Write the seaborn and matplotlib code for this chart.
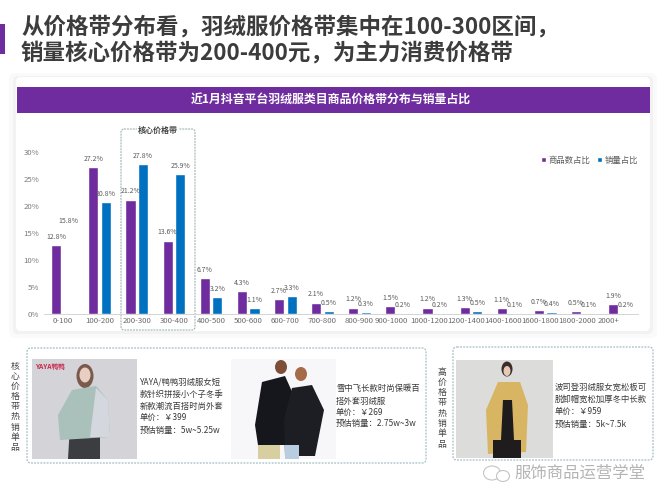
import matplotlib.pyplot as plt
import matplotlib.transforms as mtrans
from matplotlib.patches import FancyBboxPatch, Rectangle, Polygon, Ellipse
import pandas as pd
import seaborn as sns

# chart data
price_bands = ['0-100', '100-200', '200-300', '300-400', '400-500', '500-600', '600-700', '700-800',
               '800-900', '900-1000', '1000-1200', '1200-1400', '1400-1600', '1600-1800', '1800-2000', '2000+']
item_share = [12.8, 27.2, 21.2, 13.6, 6.7, 4.3, 2.7, 2.1, 1.2, 1.5, 1.2, 1.3, 1.1, 0.7, 0.5, 1.9]
sales_share = [15.8, 20.8, 27.8, 25.9, 3.2, 1.1, 3.3, 0.5, 0.3, 0.2, 0.2, 0.5, 0.1, 0.4, 0.1, 0.2]
series_names = ['商品数占比', '销量占比']
y_ticks = [0, 5, 10, 15, 20, 25, 30]

PURPLE = '#6f2c9f'
BLUE = '#0070c0'
W, H = 670, 503

sns.set_theme(style="white")
plt.rcParams['font.family'] = ['Noto Sans CJK SC', 'DejaVu Sans']

fig = plt.figure(figsize=(W / 100, H / 100), dpi=100, facecolor='white')

# background layer in pixel coordinates, for everything outside the chart
bg = fig.add_axes([0, 0, 1, 1])
bg.set_xlim(0, W)
bg.set_ylim(H, 0)
bg.axis('off')


def rounded(x0, y0, x1, y1, r=4, **kw):
    bg.add_patch(FancyBboxPatch((x0 + r, y0 + r), x1 - x0 - 2 * r, y1 - y0 - 2 * r,
                                boxstyle=f'round,pad={r},rounding_size={r}', **kw))


# header
bg.add_patch(Rectangle((0, 24), 5, 30, color=PURPLE, lw=0))
bg.text(21, 27, '从价格带分布看，羽绒服价格带集中在100-300区间，', fontsize=16.2, fontweight='bold',
        color='#3c3c3c', va='center')
bg.text(21, 54, '销量核心价格带为200-400元，为主力消费价格带', fontsize=16.2, fontweight='bold',
        color='#3c3c3c', va='center')

# card with a soft shadow and the purple banner
rounded(9, 73, 657, 338, r=6, fc='#fafafa', ec='none')
rounded(13, 76, 653, 334, r=5, fc='#f2f2f2', ec='none')
rounded(16, 77, 650, 331, r=5, fc='white', ec='none')
bg.add_patch(Rectangle((17, 87), 633, 26, color=PURPLE, lw=0))
bg.text(331, 100, '近1月抖音平台羽绒服类目商品价格带分布与销量占比', fontsize=8.6, fontweight='bold',
        color='white', ha='center', va='center')

# chart
ax = fig.add_axes([44 / W, 1 - 314 / H, 594 / W, 162 / H], facecolor='none')
df = pd.DataFrame({
    'band': price_bands * 2,
    'share': item_share + sales_share,
    'series': [series_names[0]] * len(item_share) + [series_names[1]] * len(sales_share),
})
sns.barplot(data=df, x='band', y='share', hue='series', palette=[PURPLE, BLUE],
            width=0.68, gap=0.2, saturation=1, ax=ax)
ax.set_xlim(-0.5, len(price_bands) - 0.5)
ax.set_ylim(0, 30)
ax.set_xlabel('')
ax.set_ylabel('')
ax.set_yticks(y_ticks)
ax.set_yticklabels([f'{v}%' for v in y_ticks])
ax.tick_params(axis='x', length=0, pad=2.5, labelsize=5.6, labelcolor='#6a6a6a')
ax.tick_params(axis='y', length=0, pad=3.5, labelsize=5.6, labelcolor='#7a7a7a')
sns.despine(ax=ax, left=True)
ax.spines['bottom'].set_color('#d4d4d4')
ax.spines['bottom'].set_linewidth(0.7)

for cont, vals in zip(ax.containers, [item_share, sales_share]):
    ax.bar_label(cont, labels=[f'{v}%' for v in vals], padding=3, fontsize=5, color='#5a5a5a')
# the first sales bar has a label but no visible bar in the source
ax.containers[1][0].set_visible(False)

# long labels sit left of their group in the source
for i, lab in enumerate(ax.get_xticklabels()):
    shift = -11 if i == len(price_bands) - 1 else (-5 if i >= 9 else 0)
    lab.set_transform(lab.get_transform() + mtrans.ScaledTranslation(shift / 100, 0, fig.dpi_scale_trans))

handles, labels = ax.get_legend_handles_labels()
ax.legend(handles, labels, loc='center right', bbox_to_anchor=(1.0, 0.95), ncol=2, frameon=False,
          fontsize=6, labelcolor='#5a5a5a', handlelength=0.55, handleheight=0.55, handletextpad=0.3,
          columnspacing=0.9, borderpad=0, borderaxespad=0)

# core price band frame
rounded(121, 129, 195, 330, r=3, fc='none', ec='#8fa9a9', lw=0.7, ls=(0, (2, 1)), zorder=5)
bg.set_zorder(0)
ax.set_zorder(1)
frame = fig.add_axes([0, 0, 1, 1], facecolor='none')
frame.set_xlim(0, W)
frame.set_ylim(H, 0)
frame.axis('off')
frame.set_zorder(2)
frame.text(158, 130, '核心价格带', fontsize=5.8, fontweight='bold', color='#444444', ha='center', va='center',
           bbox=dict(fc='white', ec='none', pad=0.8))

# lower panels
DASH = dict(fc='white', ec='#a3bfc4', lw=0.9, ls=(0, (1.5, 1)))
rounded(27, 348, 426, 463, r=4, **DASH)
rounded(453, 347, 653, 460, r=4, **DASH)

# rough stand-ins for the product photos
bg.add_patch(Rectangle((32, 359), 105, 100, color='#d3d3d8', lw=0))
bg.add_patch(Ellipse((85, 376), 17, 24, color='#7a5a4c', lw=0))
bg.add_patch(Ellipse((85, 375), 11, 15, color='#e9cfc2', lw=0))
bg.add_patch(Polygon([(68, 459), (70, 425), (100, 425), (100, 459)], color='#3b3d40', lw=0))
bg.add_patch(Polygon([(72, 390), (96, 386), (108, 400), (110, 437), (60, 440), (58, 415)], color='#a9c0bb', lw=0))
bg.add_patch(Polygon([(96, 388), (108, 400), (110, 437), (90, 437)], color='#d4d8de', lw=0))
bg.text(36, 366, 'YAYA鸭鸭', fontsize=4.8, fontweight='bold', color='#c8264a', va='center')

bg.add_patch(Rectangle((231, 359), 105, 100, color='#f7f7f9', lw=0))
bg.add_patch(Polygon([(262, 382), (285, 376), (298, 405), (290, 445), (258, 445), (255, 425)], color='#15171c', lw=0))
bg.add_patch(Polygon([(292, 388), (312, 385), (324, 410), (315, 456), (285, 456), (284, 420)], color='#1c1e24', lw=0))
bg.add_patch(Rectangle((258, 445), 22, 14, color='#d8cfa0', lw=0))
bg.add_patch(Rectangle((285, 445), 14, 14, color='#b9cde0', lw=0))
bg.add_patch(Ellipse((281, 367), 12, 14, color='#7d4f38', lw=0))
bg.add_patch(Ellipse((301, 374), 12, 14, color='#a56b48', lw=0))

bg.add_patch(Rectangle((456, 360), 97, 98, color='#dcdcdb', lw=0))
bg.add_patch(Polygon([(498, 382), (520, 382), (528, 405), (526, 452), (488, 454), (486, 410)], color='#d8b562', lw=0))
bg.add_patch(Rectangle((493, 440), 28, 18, color='#201c1e', lw=0))
bg.add_patch(Polygon([(503, 400), (512, 400), (514, 440), (501, 440)], color='#1e1b1c', lw=0))
bg.add_patch(Ellipse((507, 369), 11, 15, color='#3a2d2a', lw=0))
bg.add_patch(Ellipse((507, 371), 7, 10, color='#e6c9b5', lw=0))

# product text
text_blocks = [
    (140, [382, 394, 406, 417, 430],
     ['YAYA/鸭鸭羽绒服女短', '款针织拼接小个子冬季', '新款潮流百搭时尚外套', '单价：￥399', '预估销量：5w~5.25w']),
    (336, [388, 401, 412, 423],
     ['雪中飞长款时尚保暖百', '搭外套羽绒服', '单价：￥269', '预估销量：2.75w~3w']),
    (555, [387, 399, 411, 424],
     ['波司登羽绒服女宽松板可', '脱卸帽宽松加厚冬中长款', '单价：￥959', '预估销量：5k~7.5k']),
]
for x, ys, lines in text_blocks:
    for y, line in zip(ys, lines):
        bg.text(x, y, line, fontsize=6, color='#3a3a3a', va='center')

# vertical side captions
for x, y0, step, caption in [(15, 366, 10.2, '核心价格带热销单品'), (442, 372, 10.3, '高价格带热销单品')]:
    for i, ch in enumerate(caption):
        bg.text(x, y0 + i * step, ch, fontsize=6.4, color='#444444', ha='center', va='center')

# watermark
bg.text(514, 473, '服饰商品运营学堂', fontsize=11.8, color='#b4b4b4', va='center')
bg.add_patch(Ellipse((492, 473), 17, 14, fc='none', ec='#c4c4c4', lw=0.8))
bg.add_patch(Ellipse((503, 476), 13, 11, fc='white', ec='#c4c4c4', lw=0.8))

fig.savefig('out.png', dpi=100)
